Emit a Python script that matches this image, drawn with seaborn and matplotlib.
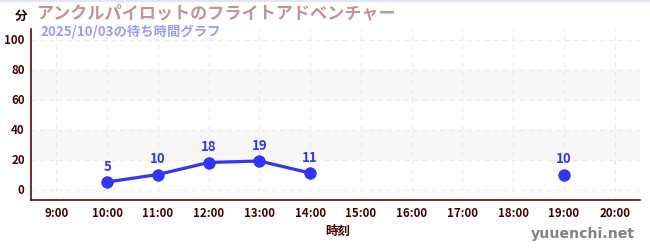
import matplotlib
matplotlib.use("Agg")
import matplotlib.pyplot as plt
import seaborn as sns
import pandas as pd
import numpy as np
from matplotlib.ticker import FixedLocator

title = "アンクルパイロットのフライトアドベンチャー"
subtitle = "2025/10/03の待ち時間グラフ"
times = ["10:00", "11:00", "12:00", "13:00", "14:00", "19:00"]
waits = [5, 10, 18, 19, 11, 10]
segments = [0, 0, 0, 0, 0, 1]
tick_labels = ["9:00", "10:00", "11:00", "12:00", "13:00", "14:00", "15:00",
               "16:00", "17:00", "18:00", "19:00", "20:00"]
y_ticks = [0, 20, 40, 60, 80, 100]

sns.set_theme(style="white")
plt.rcParams['font.family'] = ['Noto Sans CJK JP', 'DejaVu Sans']

def to_hour(s):
    h, m = s.split(":")
    return int(h) + int(m) / 60.0

df = pd.DataFrame({"hour": [to_hour(t) for t in times], "wait": waits, "seg": segments})
tick_pos = [to_hour(t) for t in tick_labels]

fig = plt.figure(figsize=(6.5, 2.5), dpi=100)
ax = fig.add_axes([31/650, 1-200/250, (640-31)/650, (200-29)/250])

blue = "#3434f5"
ax.axhspan(20, 40, color="#f7f7f7", zorder=0, lw=0)
ax.axhspan(60, 80, color="#f7f7f7", zorder=0, lw=0)

sns.lineplot(data=df, x="hour", y="wait", units="seg", estimator=None,
             color=blue, lw=2.3, ax=ax, zorder=3, legend=False)
sns.scatterplot(data=df, x="hour", y="wait", color=blue, s=68, edgecolor=blue,
                ax=ax, zorder=4, legend=False)
for h, w in zip(df["hour"], df["wait"]):
    ax.annotate(str(w), (h, w), xytext=(0, 6), textcoords="offset points",
                ha="center", va="bottom", color=blue, fontsize=9.5, fontweight="bold")

ax.set_xlim(8.5, 20.5)
ax.set_ylim(-7, 107)
ax.xaxis.set_major_locator(FixedLocator(tick_pos))
ax.set_xticklabels(tick_labels)
ax.yaxis.set_major_locator(FixedLocator(y_ticks))
ax.yaxis.set_minor_locator(FixedLocator([10, 30, 50, 70, 90]))

ax.grid(True, which="major", color="#e8e8e8", lw=0.8, ls=(0, (4, 4)))
ax.set_axisbelow(True)

for s in ["top", "right"]:
    ax.spines[s].set_visible(False)
spine_c = "#5a0a0a"
for s in ["left", "bottom"]:
    ax.spines[s].set_color(spine_c)
    ax.spines[s].set_linewidth(1.2)

ax.tick_params(axis="y", which="major", direction="inout", length=7, width=1,
               color="#2a0000", labelsize=8.3, labelcolor="#4a0000", pad=1)
ax.tick_params(axis="y", which="minor", direction="out", length=3, width=1,
               color="#dd2222")
ax.tick_params(axis="x", which="major", direction="inout", length=6, width=1,
               color="#999999", labelsize=8.3, labelcolor="#4a0000", pad=2)
for lab in ax.get_xticklabels() + ax.get_yticklabels():
    lab.set_fontweight("bold")

ax.set_xlabel("")
ax.set_ylabel("")
fig.text(338/650, 1-231/250, "時刻", ha="center", va="center", fontsize=9,
         fontweight="bold", color="#4a0000")
fig.text(21/650, 1-16/250, "分", ha="center", va="center", fontsize=9,
         fontweight="bold", color="#2a0000")
fig.text(36/650, 1-13/250, title, ha="left", va="center", fontsize=12.3,
         fontweight="bold", color="#c49494")
fig.text(40/650, 1-31/250, subtitle, ha="left", va="center", fontsize=9.6,
         fontweight="bold", color="#9c9cf0")
fig.text(635/650, 1-234/250, "yuuenchi.net", ha="right", va="center",
         fontsize=10.2, fontweight="bold", color="#828282",
         family=["DejaVu Sans"])
fig.add_artist(plt.Line2D([0, 1], [1-0.5/250, 1-0.5/250], color="#e4e4fa", lw=1.5,
                          transform=fig.transFigure))

fig.savefig("out.png", dpi=100)
